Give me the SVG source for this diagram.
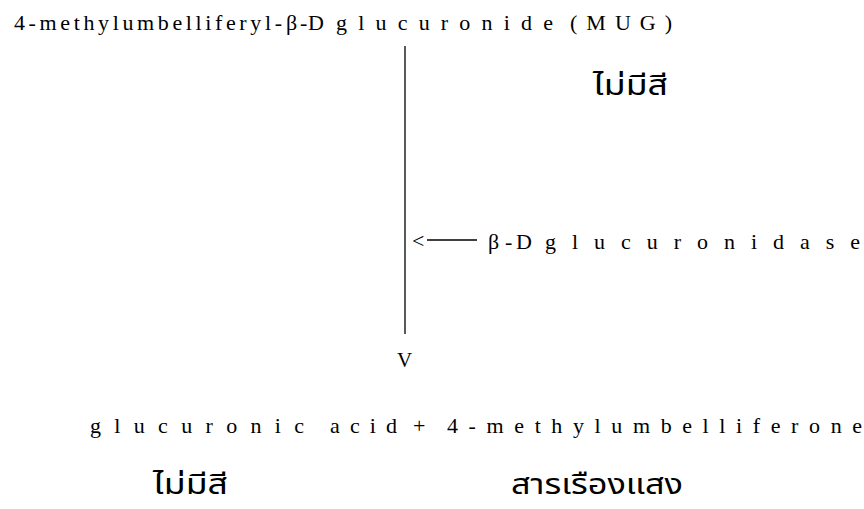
<svg xmlns="http://www.w3.org/2000/svg" width="864" height="509" viewBox="0 0 864 509">
<style>
.t{font-family:"Liberation Serif","DejaVu Serif",serif;font-size:22px;fill:#000}
.th{font-family:"Noto Sans Thai","Noto Sans","DejaVu Sans",sans-serif;font-size:28px;fill:#000}
.ln{stroke:#000;stroke-width:1.3;fill:none}
</style>
<rect width="864" height="509" fill="#fff"/>
<g id="substrate">
<text class="t" x="14" y="30" textLength="268" lengthAdjust="spacing">4-methylumbelliferyl-</text>
<text class="t" x="286" y="30">β</text>
<text class="t" x="300" y="30" textLength="24" lengthAdjust="spacing">-D</text>
<text class="t" x="336" y="30" textLength="217" lengthAdjust="spacing">glucuronide</text>
<text class="t" x="570" y="30" textLength="102" lengthAdjust="spacing">(MUG)</text>
<text class="th" x="593" y="95" textLength="75" lengthAdjust="spacingAndGlyphs">ไม่มีสี</text>
</g>
<g id="enzyme">
<text class="t" x="488" y="249">β</text>
<text class="t" x="505" y="249" textLength="27" lengthAdjust="spacing">-D</text>
<text class="t" x="545" y="249" textLength="315" lengthAdjust="spacing">glucuronidase</text>
</g>
<g id="products">
<text class="t" x="90" y="433" textLength="214" lengthAdjust="spacing">glucuronic</text>
<text class="t" x="330" y="433" textLength="67" lengthAdjust="spacing">acid</text>
<text class="t" x="413" y="433">+</text>
<text class="t" x="447" y="433" textLength="415" lengthAdjust="spacing">4-methylumbelliferone</text>
<text class="th" x="153" y="494" textLength="75" lengthAdjust="spacingAndGlyphs">ไม่มีสี</text>
<text class="th" x="511" y="494" textLength="172" lengthAdjust="spacingAndGlyphs">สารเรืองแสง</text>
</g>
<g id="connectors">
<line class="ln" x1="405" y1="46" x2="405" y2="334"/>
<text class="t" x="397" y="367" style="font-size:21px">V</text>
<text class="t" x="412" y="248">&lt;</text>
<line class="ln" x1="427" y1="240" x2="477" y2="240"/>
</g>
</svg>
